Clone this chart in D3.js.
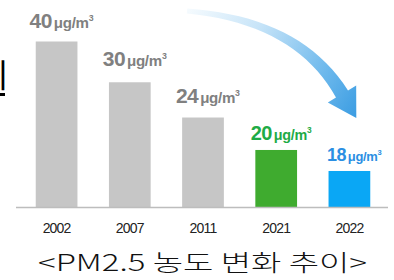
<!DOCTYPE html>
<html>
<head>
<meta charset="utf-8">
<script src="https://cdn.jsdelivr.net/npm/d3@7"></script>
<style>
body { margin: 0; background: #fff; }
svg { display: block; }
</style>
</head>
<body>
<svg id="chart" width="394" height="280"></svg>
<script>
// PM2.5 annual mean concentration
var years = ["2002", "2007", "2011", "2021", "2022"];
var values = [40, 30, 24, 20, 18];
var unitText = "μg/m";
var title = "<PM2.5 농도 변화 추이>";

// per-bar styles, kept apart from the data
var barColors = ["#c6c6c6", "#c6c6c6", "#c6c6c6", "#3fab2f", "#0aa7f5"];
var labelColors = ["#808080", "#808080", "#808080", "#1fab46", "#2b8fe3"];
var labelSizes = [21, 21, 21, 20, 18];
var labelLift = [14, 16, 15, 10, 10];

var svg = d3.select("#chart");
var base = 207.5;

var x = d3.scaleBand()
    .domain(years)
    .range([20, 386])
    .paddingInner(0.43)
    .paddingOuter(0.215);

// the original draws a compressed value axis: log scale on a shifted value
var shift = 9;
var yLog = d3.scaleLog().domain([6.35, 31]).range([base, 41.5]);
function y(v) { return yLog(v - shift); }

// arrow (drawn first, behind everything)
var grad = svg.append("defs").append("linearGradient")
    .attr("id", "arrowGrad")
    .attr("gradientUnits", "userSpaceOnUse")
    .attr("x1", 185).attr("y1", 12).attr("x2", 357).attr("y2", 118);
grad.append("stop").attr("offset", 0).attr("stop-color", "#f6fbfe");
grad.append("stop").attr("offset", 0.35).attr("stop-color", "#c7e4f8");
grad.append("stop").attr("offset", 0.75).attr("stop-color", "#6cb8ec");
grad.append("stop").attr("offset", 1).attr("stop-color", "#3a9ce2");

var p0 = [187, 11], p1 = [298, 20], p2 = [342, 94];
function bez(t) {
  var a = (1 - t) * (1 - t), b = 2 * (1 - t) * t, c = t * t;
  return [a * p0[0] + b * p1[0] + c * p2[0], a * p0[1] + b * p1[1] + c * p2[1]];
}
function tangent(t) {
  var dx = 2 * (1 - t) * (p1[0] - p0[0]) + 2 * t * (p2[0] - p1[0]);
  var dy = 2 * (1 - t) * (p1[1] - p0[1]) + 2 * t * (p2[1] - p1[1]);
  var l = Math.sqrt(dx * dx + dy * dy);
  return [dx / l, dy / l];
}
var left = [], right = [];
d3.range(0, 1.0001, 0.05).forEach(function(t) {
  var p = bez(t), u = tangent(t), w = (5 + 9 * Math.pow(t, 1.2)) / 2;
  left.push([p[0] + u[1] * w, p[1] - u[0] * w]);
  right.push([p[0] - u[1] * w, p[1] + u[0] * w]);
});
var uEnd = tangent(1);
var head = [
  [p2[0] + uEnd[1] * 16.5, p2[1] - uEnd[0] * 16.5],
  [p2[0] + uEnd[0] * 28, p2[1] + uEnd[1] * 28],
  [p2[0] - uEnd[1] * 16.5, p2[1] + uEnd[0] * 16.5]
];
var outline = left.concat(head).concat(right.reverse());
svg.append("path")
    .attr("d", d3.line()(outline) + "Z")
    .attr("fill", "url(#arrowGrad)");

// bars
svg.selectAll("rect.bar")
    .data(values)
  .enter().append("rect")
    .attr("class", "bar")
    .attr("x", function(d, i) { return x(years[i]); })
    .attr("y", function(d) { return y(d); })
    .attr("width", x.bandwidth())
    .attr("height", function(d) { return base - y(d); })
    .attr("fill", function(d, i) { return barColors[i]; });

// value labels
var label = svg.selectAll("text.val")
    .data(values)
  .enter().append("text")
    .attr("class", "val")
    .attr("x", function(d, i) { return x(years[i]) + x.bandwidth() / 2 + 5; })
    .attr("y", function(d, i) { return y(d) - labelLift[i]; })
    .attr("text-anchor", "middle")
    .attr("fill", function(d, i) { return labelColors[i]; })
    .style("font-family", "'Liberation Sans', Arial, sans-serif")
    .style("font-weight", "bold");

label.append("tspan")
    .style("font-size", function(d, i) { return labelSizes[i] + "px"; })
    .style("letter-spacing", "-0.6px")
    .text(function(d) { return d; });
label.append("tspan")
    .attr("dx", 2)
    .style("font-size", function(d, i) { return (labelSizes[i] * 0.72) + "px"; })
    .style("letter-spacing", "-0.3px")
    .text(unitText);
label.append("tspan")
    .attr("dy", function(d, i) { return -labelSizes[i] * 0.33; })
    .style("font-size", function(d, i) { return (labelSizes[i] * 0.42) + "px"; })
    .text("3");

// baseline + year labels
svg.append("line")
    .attr("x1", x.range()[0] - 4).attr("x2", x.range()[1] + 2)
    .attr("y1", base).attr("y2", base)
    .attr("stroke", "#bdbdbd")
    .attr("stroke-width", 1.5);

var axis = svg.append("g")
    .attr("transform", "translate(0," + base + ")")
    .call(d3.axisBottom(x).tickSize(0).tickPadding(16));
axis.select(".domain").remove();
axis.selectAll("text")
    .style("font-family", "'Liberation Sans', Arial, sans-serif")
    .style("font-size", "14px")
    .style("letter-spacing", "-0.8px")
    .attr("fill", "#222");

// title (the source image is stretched wide, so fit it to its width)
svg.append("text")
    .attr("x", 38)
    .attr("y", 271)
    .attr("textLength", 329)
    .attr("lengthAdjust", "spacingAndGlyphs")
    .style("font-family", "'Noto Sans CJK KR', sans-serif")
    .style("font-weight", 300)
    .style("font-size", "23px")
    .attr("fill", "#111")
    .text(title);

// cut-off heading on the left edge (only its last stroke shows)
svg.append("text")
    .attr("x", 8.5)
    .attr("y", 87)
    .attr("text-anchor", "end")
    .style("font-family", "'Noto Sans CJK KR', sans-serif")
    .style("font-size", "32px")
    .attr("fill", "#000")
    .text("이");
svg.append("line")
    .attr("x1", 0).attr("x2", 5)
    .attr("y1", 94.5).attr("y2", 94.5)
    .attr("stroke", "#000")
    .attr("stroke-width", 3);
</script>
</body>
</html>
